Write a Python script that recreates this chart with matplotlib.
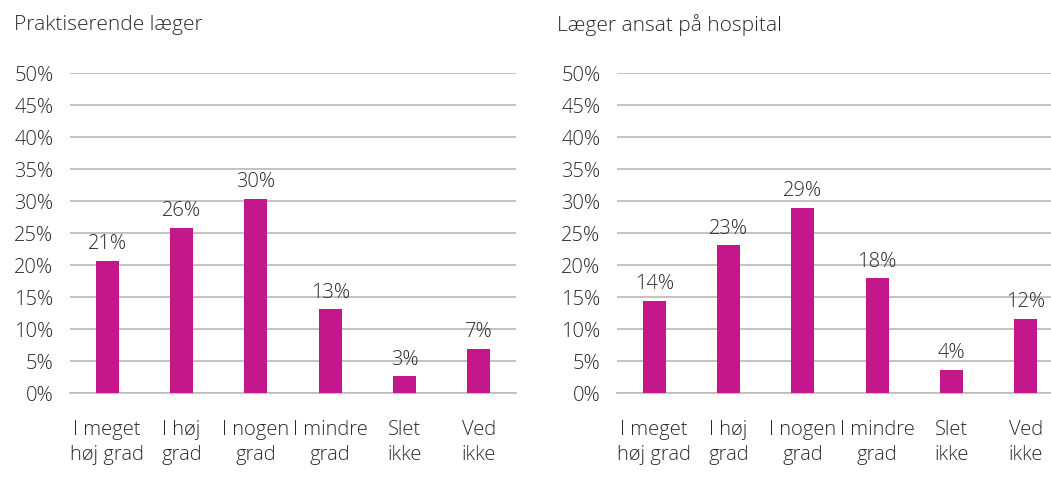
import matplotlib.pyplot as plt

categories = ["I meget\nhøj grad", "I høj\ngrad", "I nogen\ngrad", "I mindre\ngrad", "Slet\nikke", "Ved\nikke"]
praktiserende = [20.7, 25.8, 30.3, 13.1, 2.6, 6.9]
hospital = [14.4, 23.1, 28.9, 17.9, 3.6, 11.6]
titles = ["Praktiserende læger", "Læger ansat på hospital"]
yticks = [0, 5, 10, 15, 20, 25, 30, 35, 40, 45, 50]

BAR_COLOR = "#C4178B"
GRID_COLOR = "#BDBDBD"
TEXT_COLOR = "#2A2A2A"
FS = 14.5

plt.rcParams["font.family"] = ["Open Sans", "DejaVu Sans"]
plt.rcParams["font.weight"] = "light"
plt.rcParams["font.size"] = FS

fig = plt.figure(figsize=(10.51, 4.81), dpi=100)

panels = [
    (praktiserende, titles[0], 70, 14),
    (hospital, titles[1], 617, 557),
]

for values, title, x0, title_x in panels:
    ax = fig.add_axes([x0 / 1051, 87 / 481, 446 / 1051, 320 / 481])
    x = range(len(categories))
    ax.bar(x, values, width=0.31, color=BAR_COLOR, zorder=3)
    for xi, v in zip(x, values):
        ax.annotate(f"{v:.0f}%", (xi, v), xytext=(0, 5.5), textcoords="offset points",
                    ha="center", va="bottom", color=TEXT_COLOR, fontsize=FS)
    ax.set_xlim(-0.5, len(categories) - 0.5)
    ax.set_ylim(0, 50)
    ax.set_yticks(yticks)
    ax.set_yticklabels([f"{t}%" for t in yticks])
    ax.set_xticks(list(x))
    ax.set_xticklabels(categories, linespacing=1.32)
    ax.grid(axis="y", color=GRID_COLOR, linewidth=1.3, zorder=0)
    for side in ["top", "right", "left"]:
        ax.spines[side].set_visible(False)
    ax.spines["bottom"].set_color(GRID_COLOR)
    ax.spines["bottom"].set_linewidth(1.3)
    ax.tick_params(axis="both", length=0, colors=TEXT_COLOR, labelsize=FS)
    ax.tick_params(axis="x", pad=19)
    ax.tick_params(axis="y", pad=12)
    fig.text(title_x / 1051, 1 - 25 / 481, title, ha="left", va="center",
             color=TEXT_COLOR, fontsize=15)

fig.savefig("out.png", dpi=100)
